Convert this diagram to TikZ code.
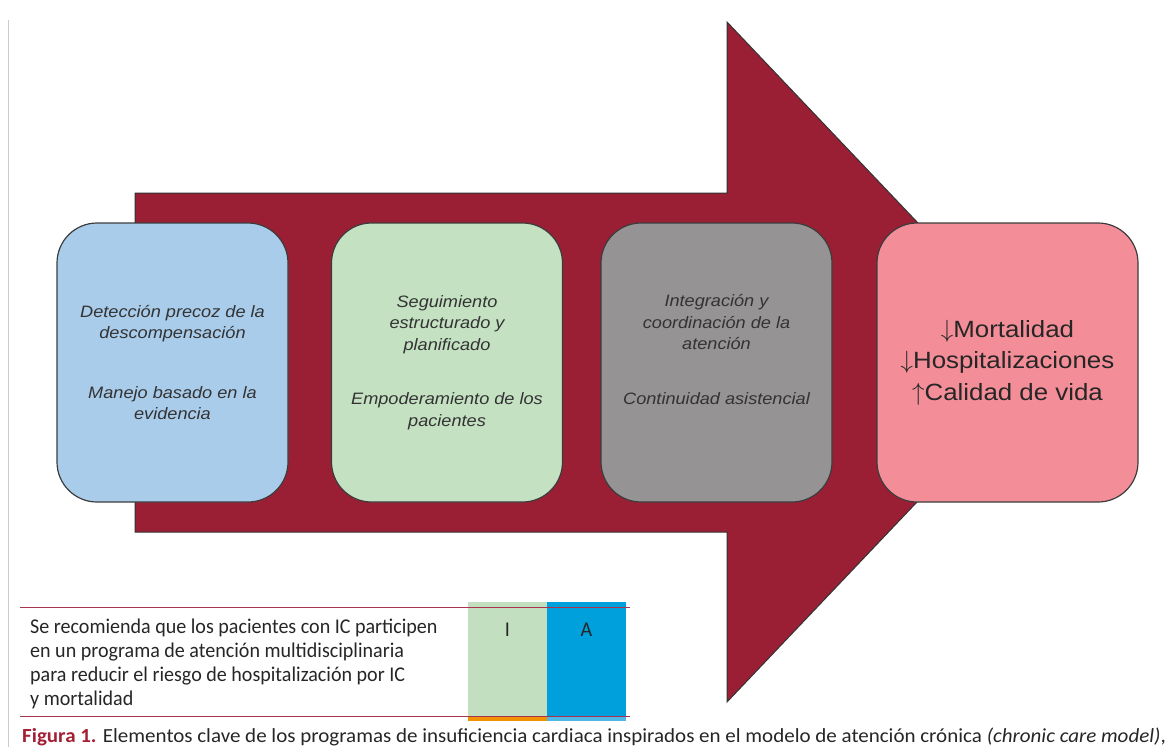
\documentclass[tikz,border=0pt]{standalone}
\usepackage{fontspec}
\setmainfont{Liberation Sans}
\newfontfamily\boxfont[FakeStretch=1.1]{Liberation Sans}
\newfontfamily\tablefont[FakeStretch=0.955]{Carlito}
\newfontfamily\capfont[FakeStretch=1.05]{Carlito}
\usetikzlibrary{positioning}
\definecolor{arrowred}{HTML}{9A1F35}
\definecolor{boxline}{HTML}{3C3C3C}
\definecolor{boxtext}{HTML}{333333}
\definecolor{bluebox}{HTML}{A9CCEB}
\definecolor{greenbox}{HTML}{C4E1C2}
\definecolor{graybox}{HTML}{959393}
\definecolor{pinkbox}{HTML}{F38E98}
\definecolor{cellgreen}{HTML}{C2E0C0}
\definecolor{cellblue}{HTML}{00A0DC}
\definecolor{rulered}{HTML}{A8344E}
\definecolor{stripor}{HTML}{F39200}
\definecolor{stripbl}{HTML}{4DB8E8}
\definecolor{figred}{HTML}{A31F34}
\tikzstyle{stage}=[draw=boxline,line width=1.2pt,rounded corners=40pt,minimum width=231pt,minimum height=279pt,align=center,text=boxtext,font=\boxfont\fontsize{16.5}{21.5}\selectfont\itshape]

\begin{document}
\begin{tikzpicture}[x=1pt,y=-1pt]
    \tikzstyle{rule}=[rulered,line width=1pt]
    \tikzstyle{grade}=[text=black!85,font=\tablefont\fontsize{21}{24}\selectfont]
    \useasboundingbox (0,0) rectangle (1169,747);
    \draw[black!20,line width=1pt] (8,20) -- (8,747);
    \draw[fill=arrowred,draw=black!80,line width=1pt] (135,193) -- (727,193) -- (727,22) -- (1050,362) -- (727,702) -- (727,532) -- (135,532) -- cycle;
    \node[stage,fill=bluebox] (detect) at (172.5,362.5) {Detección precoz de la\\descompensación\\[38pt]Manejo basado en la\\evidencia};
    \node[stage,fill=greenbox] (follow) at (447,362.5) {Seguimiento\\estructurado y\\planificado\\[33pt]Empoderamiento de los\\pacientes};
    \node[stage,fill=graybox] (integr) at (716.5,362.5) {Integración y\\coordinación de la\\atención\\[33pt]Continuidad asistencial\\[-2pt]\strut};
    \node[stage,fill=pinkbox,minimum width=261pt,text=black!85,font=\boxfont\fontsize{23.5}{31.5}\selectfont] (outcome) at (1007.5,362.5) {$\downarrow$Mortalidad\\$\downarrow$Hospitalizaciones\\$\uparrow$Calidad de vida};
    \fill[cellgreen] (468,602) rectangle (547,717);
    \fill[cellblue] (547,602) rectangle (626,717);
    \fill[stripor] (468,717) rectangle (547,721);
    \fill[stripbl] (547,717) rectangle (626,721);
    \draw[rule] (20,607) -- (630,607);
    \draw[rule] (20,716) -- (630,716);
    \node[grade,anchor=north west,align=left,inner sep=0pt] (advice) at (30,619) {Se recomienda que los pacientes con IC participen\\en un programa de atención multidisciplinaria\\para reducir el riesgo de hospitalización por IC\\y mortalidad};
    \node[grade] (classI) at (507.5,630) {I};
    \node[grade] (levelA) at (586.5,630) {A};
    \node[anchor=base west,inner sep=0pt,text=black!85,font=\capfont\fontsize{20}{22}\selectfont] (caption) at (22,742) {\textcolor{figred}{\textbf{Figura 1.}} Elementos clave de los programas de insuficiencia cardiaca inspirados en el modelo de atención crónica \textit{(chronic care model)},};
\end{tikzpicture}
\end{document}
